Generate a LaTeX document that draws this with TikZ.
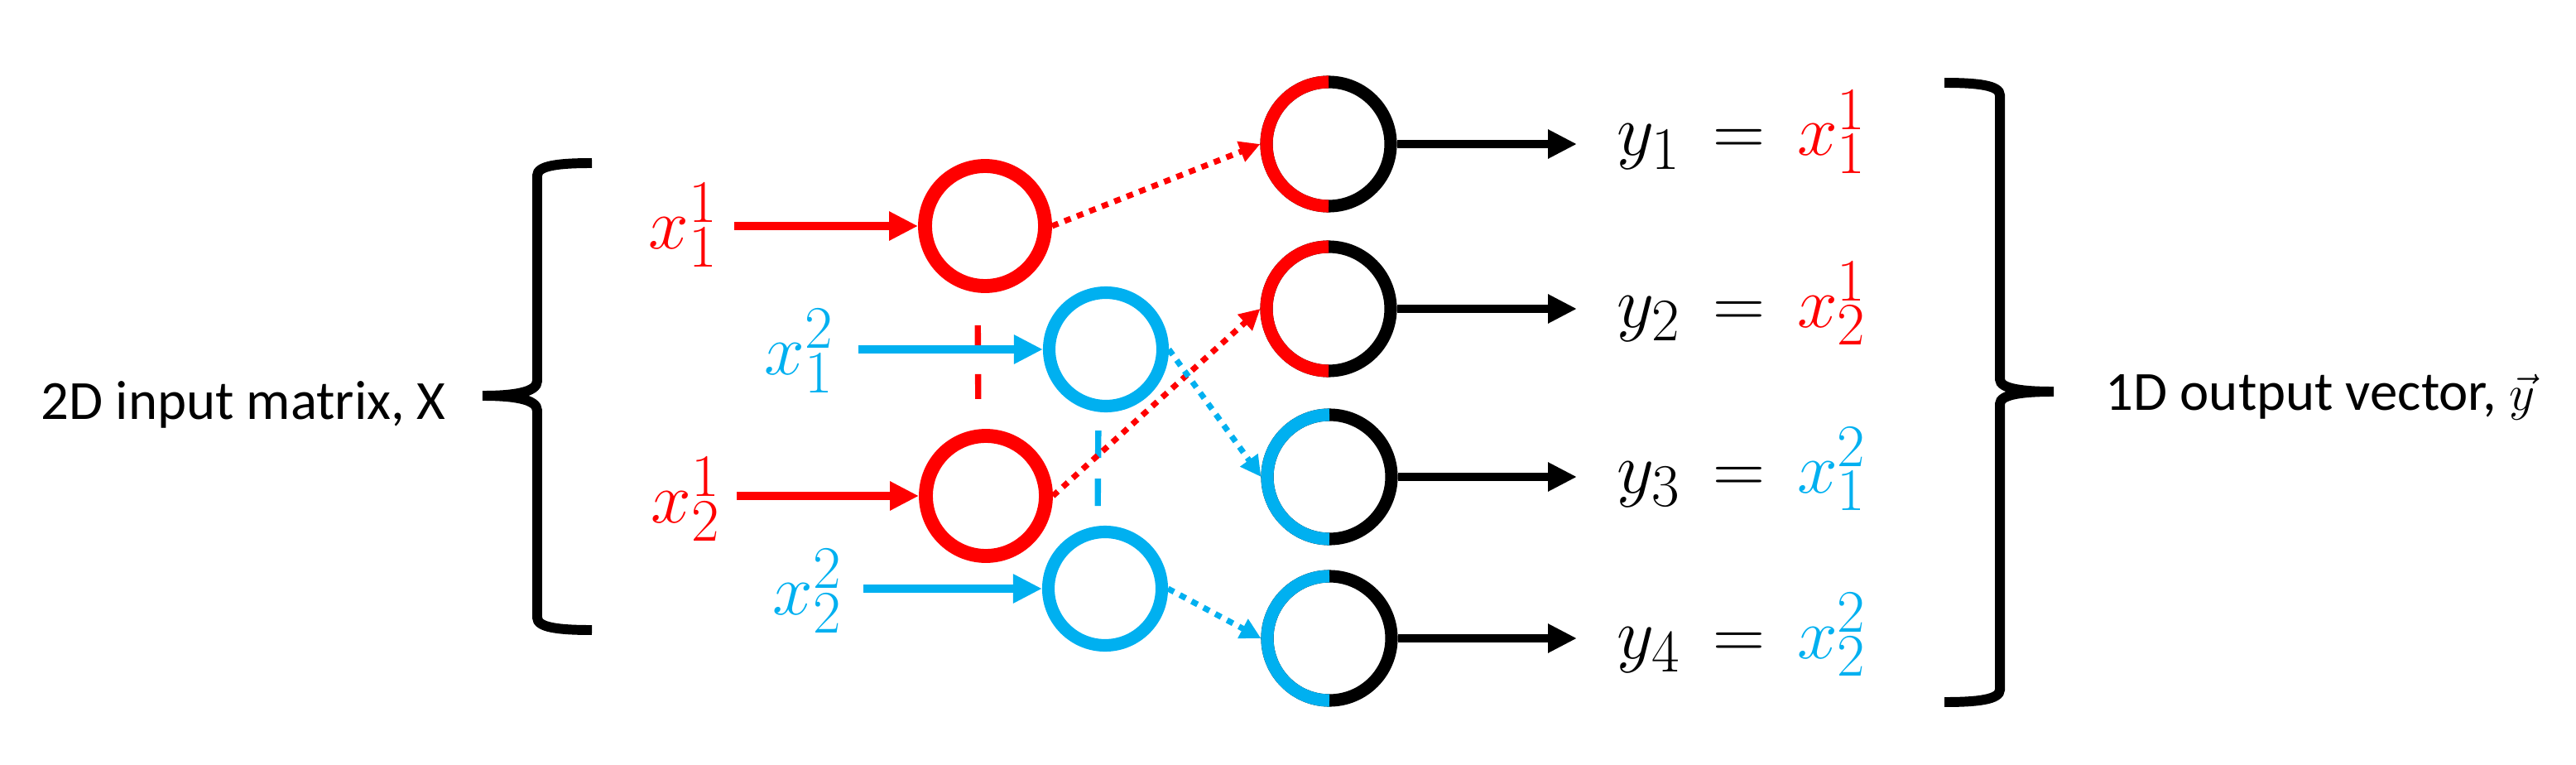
\documentclass[tikz,border=0pt]{standalone}
\usepackage{fontspec}
\setmainfont{Carlito}
\usepackage{xcolor}
\usetikzlibrary{arrows.meta,positioning}
\definecolor{skyblue}{RGB}{0,176,240}

\begin{document}
\begin{tikzpicture}[
  redcell/.style={circle,draw=red,line width=4.8pt,minimum size=1.45cm,inner sep=0pt},
  bluecell/.style={circle,draw=skyblue,line width=4.3pt,minimum size=1.37cm,inner sep=0pt},
  outcell/.style={circle,draw=black,line width=4.3pt,minimum size=1.50cm,inner sep=0pt},
  halfarc/.style={line width=4.3pt},
  feed/.style={line width=3.1pt,-{Triangle[length=0.35cm,width=0.33cm]}},
  route/.style={line width=2pt,dash pattern=on 2.3pt off 2.3pt,-{Triangle[length=0.25cm,width=0.25cm]}},
  link/.style={line width=2.1pt},
  brace/.style={line width=3.4pt},
  lbl/.style={inner sep=0pt,font=\fontsize{32}{38}\selectfont},
  caption/.style={inner sep=0pt,font=\fontsize{19}{23}\selectfont}]
\useasboundingbox (0,0) rectangle (31.12,-9.24);

% hidden units
\node[redcell] (r1) at (11.90,-2.73) {};
\node[redcell] (r2) at (11.91,-5.99) {};
\node[bluecell] (b1) at (13.36,-4.22) {};
\node[bluecell] (b2) at (13.35,-7.11) {};

% output units
\node[outcell] (o1) at (16.05,-1.74) {};
\node[outcell] (o2) at (16.05,-3.73) {};
\node[outcell] (o3) at (16.06,-5.76) {};
\node[outcell] (o4) at (16.06,-7.71) {};
\draw[halfarc,red] (o1.center) ++(0,0.75) arc[start angle=90,end angle=270,radius=0.75];
\draw[halfarc,red] (o2.center) ++(0,0.75) arc[start angle=90,end angle=270,radius=0.75];
\draw[halfarc,skyblue] (o3.center) ++(0,0.75) arc[start angle=90,end angle=270,radius=0.75];
\draw[halfarc,skyblue] (o4.center) ++(0,0.75) arc[start angle=90,end angle=270,radius=0.75];

% inputs
\node[lbl,text=red,anchor=east] (x11) at (8.68,-2.72) {$x_1^1$};
\node[lbl,text=skyblue,anchor=east] (x12) at (10.08,-4.24) {$x_1^2$};
\node[lbl,text=red,anchor=east] (x21) at (8.71,-6.03) {$x_2^1$};
\node[lbl,text=skyblue,anchor=east] (x22) at (10.18,-7.14) {$x_2^2$};

% outputs
\node[lbl,anchor=base west] (y1) at (19.53,-1.88) {$y_1 \,=\, {\color{red}x_1^1}$};
\node[lbl,anchor=base west] (y2) at (19.53,-3.95) {$y_2 \,=\, {\color{red}x_2^1}$};
\node[lbl,anchor=base west] (y3) at (19.53,-5.95) {$y_3 \,=\, {\color{skyblue}x_1^2}$};
\node[lbl,anchor=base west] (y4) at (19.53,-7.95) {$y_4 \,=\, {\color{skyblue}x_2^2}$};

% column links
\draw[link,red,dash pattern=on 0.30cm off 0.29cm,shorten <=0.39cm,shorten >=0.33cm] ([xshift=-0.09cm]r1.south) -- ([xshift=-0.09cm]r2.north);
\draw[link,skyblue,dash pattern=on 0.33cm off 0.25cm,shorten <=0.22cm,shorten >=0.23cm] ([xshift=-0.09cm]b1.south) -- ([xshift=-0.09cm]b2.north);

\draw[feed,red,shorten <=0.19cm] (r1.west -| x11.east) -- (r1.west);
\draw[feed,skyblue,shorten <=0.29cm] (b1.west -| x12.east) -- (b1.west);
\draw[feed,red,shorten <=0.19cm] (r2.west -| x21.east) -- (r2.west);
\draw[feed,skyblue,shorten <=0.25cm] (b2.west -| x22.east) -- (b2.west);

\draw[route,red] (r1.east) -- (o1.west);
\draw[route,red] (r2.east) -- (o2.west);
\draw[route,skyblue] (b1.east) -- (o3.west);
\draw[route,skyblue] (b2.east) -- (o4.west);

\draw[feed,shorten >=0.48cm] (o1.east) -- (o1.east -| y1.west);
\draw[feed,shorten >=0.48cm] (o2.east) -- (o2.east -| y2.west);
\draw[feed,shorten >=0.48cm] (o3.east) -- (o3.east -| y3.west);
\draw[feed,shorten >=0.48cm] (o4.east) -- (o4.east -| y4.west);

% braces and captions
\draw[brace] (7.15,-1.97) .. controls (6.75,-1.97) and (6.49,-2.00) .. (6.49,-2.12)
  -- (6.49,-4.60) .. controls (6.49,-4.74) and (6.20,-4.78) .. (5.83,-4.78)
  .. controls (6.20,-4.78) and (6.49,-4.82) .. (6.49,-4.96)
  -- (6.49,-7.46) .. controls (6.49,-7.58) and (6.75,-7.61) .. (7.15,-7.61);
\draw[brace] (23.49,-1.00) .. controls (23.89,-1.00) and (24.16,-1.03) .. (24.16,-1.15)
  -- (24.16,-4.58) .. controls (24.16,-4.70) and (24.45,-4.73) .. (24.81,-4.73)
  .. controls (24.45,-4.73) and (24.16,-4.76) .. (24.16,-4.88)
  -- (24.16,-8.33) .. controls (24.16,-8.45) and (23.89,-8.48) .. (23.49,-8.48);
\node[caption,anchor=base west] (inname) at (0.49,-5.06) {2D input matrix, X};
\node[caption,anchor=base west] (outname) at (25.43,-4.95) {1D output vector, $\vec{y}$};

\end{tikzpicture}
\end{document}
